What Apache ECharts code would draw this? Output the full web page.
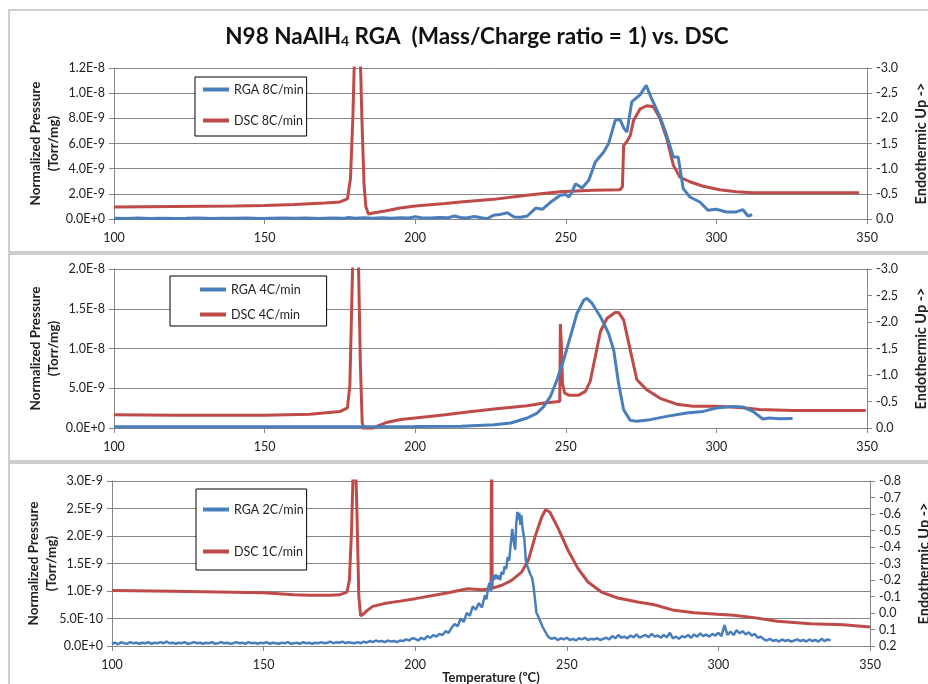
<!DOCTYPE html>
<html>
<head>
<meta charset="utf-8">
<script src="https://cdn.jsdelivr.net/npm/echarts@6/dist/echarts.min.js"></script>
<style>
  html, body { margin: 0; padding: 0; background: #fff; }
  #chart { width: 928px; height: 684px; }
</style>
</head>
<body>
<div id="chart"></div>
<script>
// temperature (C) vs normalized pressure in units of 1E-9 Torr/mg, and DSC signal (right axis)
const rga8 = [[100,0.05],[104,0.03],[108,0.07],[112,0.04],[116,0.06],[120,0.03],[124,0.05],[128,0.08],[132,0.04],[136,0.06],[140,0.05],[144,0.07],[148,0.04],[152,0.06],[156,0.08],[160,0.05],[164,0.07],[168,0.04],[172,0.08],[176,0.05],[178,0.12],[180,0.06],[183,0.1],[186,0.05],[189,0.09],[192,0.06],[195,0.1],[198,0.08],[200,0.18],[202,0.1],[205,0.08],[208,0.12],[211,0.1],[213,0.24],[215,0.12],[217,0.08],[219.6,0.2],[222,0.1],[224,0.03],[226,0.3],[228,0.35],[230.6,0.5],[232.8,0.16],[235,0.14],[237.2,0.24],[240,0.87],[242.2,0.77],[245,1.35],[248.2,1.88],[250,1.95],[251,1.75],[252,2.1],[253.2,2.8],[255.4,2.46],[257.6,3.07],[259.8,4.53],[262.6,5.32],[264.2,5.99],[266.4,7.84],[268,7.92],[269.3,7.2],[270.3,6.91],[271.9,9.3],[274.7,9.88],[276.7,10.62],[278.5,9.56],[281.3,8.1],[283.5,6.65],[285.7,4.93],[287.3,4.93],[289,2.41],[291.2,1.75],[294.5,1.35],[297.2,0.69],[300,0.77],[303.3,0.56],[306.6,0.56],[308.8,0.74],[310.5,0.24],[311.9,0.34]];
const dsc8 = [[100,-0.24],[120,-0.25],[140,-0.26],[150,-0.27],[160,-0.29],[170,-0.32],[175,-0.34],[177.5,-0.4],[178.5,-0.8],[179.3,-2.0],[180,-3.6],[180.8,-4.5],[181.6,-3.6],[182.3,-2.0],[183,-0.7],[183.6,-0.25],[184.5,-0.1],[186,-0.12],[190,-0.16],[195,-0.22],[200,-0.26],[210,-0.31],[215,-0.34],[226,-0.39],[237,-0.47],[248,-0.54],[259,-0.57],[268,-0.58],[268.8,-0.64],[269.2,-1.46],[270.3,-1.54],[271.4,-1.66],[272.5,-1.96],[274.7,-2.19],[276.9,-2.25],[279.1,-2.23],[281.3,-1.99],[283.5,-1.6],[285.7,-1.07],[287.9,-0.83],[291.2,-0.74],[295.6,-0.65],[301.1,-0.58],[306.6,-0.54],[312,-0.52],[320,-0.52],[331,-0.52],[347.4,-0.52]];

const rga4 = [[100,0.15],[120,0.16],[140,0.15],[160,0.17],[180,0.16],[200,0.18],[215.2,0.21],[226.2,0.42],[231.7,0.63],[237.2,1.26],[240.5,1.88],[242.7,2.72],[244.9,3.97],[247.1,6.07],[249.3,8.58],[251.5,11.5],[253.7,14.4],[256,16.1],[257,16.3],[258.7,15.7],[261.5,14.0],[264.2,11.9],[265.9,9.8],[267.5,5.65],[269.2,2.3],[271.4,0.96],[273.6,0.84],[278,1.05],[283.5,1.46],[290.1,1.88],[295.6,2.09],[300,2.51],[305.5,2.72],[308.8,2.64],[312.1,2.09],[315.4,1.13],[317.6,1.26],[320.9,1.17],[325.3,1.21]];
const dsc4 = [[100,-0.25],[120,-0.24],[150,-0.24],[165,-0.26],[175,-0.31],[177.5,-0.38],[178.3,-0.8],[179,-2.5],[179.7,-4.2],[180.5,-4.5],[181.2,-3.0],[181.8,-1.2],[182.4,-0.1],[183,0.03],[185.2,0.03],[188,-0.05],[190.8,-0.11],[195.2,-0.16],[200,-0.19],[210,-0.25],[217.4,-0.3],[226.2,-0.36],[237.2,-0.42],[242.7,-0.47],[248,-0.5],[248.2,-1.96],[248.6,-1.47],[248.9,-0.85],[249.6,-0.66],[251,-0.62],[254.3,-0.62],[256.5,-0.69],[258.1,-0.88],[259.8,-1.35],[261.5,-1.82],[263.7,-2.07],[266.4,-2.18],[267.5,-2.18],[269.2,-2.04],[271.4,-1.47],[273.6,-0.91],[276.9,-0.72],[281.3,-0.56],[286.8,-0.45],[292.3,-0.41],[300,-0.41],[308.8,-0.38],[314.3,-0.35],[325.3,-0.33],[349.6,-0.33]];

const rga2 = [[100,0.04],[101,0.06],[102,0.03],[103,0.07],[104,0.05],[105,0.04],[106,0.07],[107,0.05],[108,0.06],[109,0.04],[110,0.06],[111,0.05],[112,0.07],[113,0.04],[114,0.06],[115,0.05],[116,0.07],[117,0.05],[118,0.08],[119,0.05],[120,0.06],[121,0.04],[122,0.06],[123,0.05],[124,0.07],[125,0.04],[126,0.05],[127,0.07],[128,0.05],[129,0.06],[130,0.04],[131,0.06],[132,0.05],[133,0.07],[134,0.04],[135,0.05],[136,0.07],[137,0.05],[138,0.06],[139,0.04],[140,0.05],[141,0.07],[142,0.05],[143,0.06],[144,0.04],[145,0.07],[146,0.05],[147,0.06],[148,0.04],[149,0.06],[150,0.05],[151,0.07],[152,0.04],[153,0.06],[154,0.05],[155,0.04],[156,0.06],[157,0.05],[158,0.07],[159,0.04],[160,0.05],[161,0.06],[162,0.04],[163,0.07],[164,0.05],[165,0.06],[166,0.04],[167,0.06],[168,0.05],[169,0.07],[170,0.05],[171,0.06],[172,0.08],[173,0.05],[174,0.07],[175,0.06],[176,0.08],[177,0.05],[178,0.07],[179,0.06],[180,0.05],[181,0.07],[182,0.05],[183,0.08],[184,0.06],[185,0.09],[186,0.07],[187,0.1],[188,0.08],[189,0.09],[190,0.07],[191,0.1],[192,0.08],[193,0.09],[194,0.07],[195,0.1],[196,0.09],[197,0.12],[198,0.1],[199,0.14],[200,0.13],[201,0.1],[202,0.15],[203,0.12],[204,0.18],[205,0.15],[206,0.2],[207,0.17],[208,0.22],[209,0.2],[210,0.27],[211,0.24],[212,0.33],[213,0.4],[214,0.36],[215,0.5],[216,0.44],[217,0.6],[218,0.55],[219,0.72],[220,0.66],[221,0.78],[222,0.7],[223,0.92],[223.5,0.85],[224,1.05],[224.5,1.15],[225,1.0],[225.5,1.28],[226,1.2],[226.5,1.3],[227,1.22],[227.5,1.28],[228,1.2],[228.5,1.35],[229,1.3],[229.5,1.45],[230,1.4],[230.5,1.62],[231,1.55],[231.5,1.85],[232,2.13],[232.5,1.9],[233,1.75],[233.3,2.2],[233.7,2.44],[234,2.3],[234.3,2.42],[234.7,2.2],[235,2.38],[235.5,2.1],[236,1.95],[236.5,1.55],[237,1.45],[237.5,1.48],[238,1.3],[238.5,1.25],[239,1.1],[239.5,0.85],[240,0.6],[240.5,0.55],[241,0.48],[241.5,0.45],[242,0.35],[242.5,0.3],[243,0.25],[243.5,0.2],[244,0.16],[244.5,0.17],[245,0.13],[246,0.15],[247,0.11],[248,0.14],[249,0.12],[250,0.15],[251,0.11],[252,0.13],[253,0.1],[254,0.14],[255,0.12],[256,0.15],[257,0.11],[258,0.13],[259,0.12],[260,0.14],[261,0.11],[262,0.13],[263,0.15],[264,0.12],[265,0.18],[266,0.14],[267,0.2],[268,0.15],[269,0.17],[270,0.14],[271,0.19],[272,0.16],[273,0.21],[274,0.15],[275,0.18],[276,0.2],[277,0.16],[278,0.22],[279,0.17],[280,0.19],[281,0.15],[282,0.2],[283,0.16],[284,0.24],[285,0.14],[286,0.17],[287,0.13],[288,0.18],[289,0.16],[290,0.2],[291,0.15],[292,0.21],[293,0.17],[294,0.23],[295,0.18],[296,0.21],[297,0.17],[298,0.22],[299,0.19],[300,0.24],[301,0.18],[302,0.38],[303,0.2],[304,0.26],[305,0.2],[306,0.29],[307,0.23],[308,0.27],[309,0.21],[310,0.25],[311,0.19],[312,0.22],[313,0.15],[314,0.17],[315,0.12],[316,0.1],[317,0.13],[318,0.09],[319,0.11],[320,0.08],[321,0.12],[322,0.09],[323,0.11],[324,0.08],[325,0.1],[326,0.12],[327,0.09],[328,0.11],[329,0.08],[330,0.12],[331,0.09],[332,0.11],[333,0.08],[334,0.13],[335,0.09],[336,0.12],[337,0.1]];
const dsc1 = [[100,-0.137],[120,-0.132],[140,-0.126],[150,-0.123],[160,-0.11],[165,-0.107],[172,-0.107],[175,-0.11],[177.5,-0.127],[178.3,-0.2],[179,-0.5],[179.6,-0.9],[180.2,-1.0],[180.8,-0.6],[181.4,-0.1],[182,0.018],[183,0.005],[184.2,-0.016],[186,-0.04],[189.7,-0.057],[195,-0.072],[200,-0.087],[210,-0.12],[217.3,-0.147],[222,-0.141],[225,-0.147],[225.2,-1.2],[225.4,-0.15],[228.6,-0.168],[231.8,-0.198],[235.1,-0.248],[237.3,-0.319],[239.5,-0.46],[241.7,-0.58],[243,-0.626],[244.4,-0.612],[247.2,-0.511],[250.4,-0.38],[253.7,-0.269],[257,-0.188],[261.4,-0.127],[266.8,-0.091],[273.4,-0.067],[278.9,-0.05],[285.4,-0.016],[292,-0.002],[299.7,0.008],[305.1,0.014],[311.7,0.028],[319.4,0.05],[330.3,0.065],[341.2,0.071],[350,0.085]];

const panelNames = [['RGA 8C/min', 'DSC 8C/min'], ['RGA 4C/min', 'DSC 4C/min'], ['RGA 2C/min', 'DSC 1C/min']];
const leftMax = [12, 20, 3];       // x 1E-9
const leftStep = [2, 5, 0.5];
const rightRange = [[-3, 0, 0.5], [-3, 0, 0.5], [-0.8, 0.2, 0.1]];

const FONT = 'Lato, "Liberation Sans", sans-serif';
const BLUE = '#4a7ebb';
const RED = '#be4b48';
const AXIS = '#868686';

const grids = [
  { left: 114, right: 61, top: 68, height: 151, outerBoundsMode: 'none' },
  { left: 114, right: 61, top: 269, height: 159, outerBoundsMode: 'none' },
  { left: 112, right: 58, top: 481, height: 165, outerBoundsMode: 'none' }
];

const xAxes = grids.map((g, i) => ({
  type: 'value', gridIndex: i, min: 100, max: 350, interval: 50,
  axisLine: { lineStyle: { color: AXIS } },
  axisTick: { show: true, length: 5, lineStyle: { color: AXIS } },
  splitLine: { show: false },
  axisLabel: { fontFamily: FONT, fontSize: 12.5, color: '#222', margin: 12 },
  name: i === 2 ? 'Temperature (ºC)' : '',
  nameLocation: 'middle', nameGap: 25, nameMoveOverlap: false,
  nameTextStyle: { fontFamily: FONT, fontSize: 13, fontWeight: 'bold', color: '#222' }
}));

const yAxes = [];
grids.forEach((g, i) => {
  yAxes.push({
    type: 'value', gridIndex: i, position: 'left', min: 0, max: leftMax[i], interval: leftStep[i],
    axisLine: { show: true, lineStyle: { color: AXIS } },
    axisTick: { show: true, length: 5, lineStyle: { color: AXIS } },
    splitLine: { show: true, lineStyle: { color: AXIS, width: 1 } },
    axisLabel: {
      fontFamily: FONT, fontSize: 12.5, color: '#222', margin: 9,
      formatter: v => (v * 1e-9).toExponential(1).toUpperCase()
    },
    name: 'Normalized Pressure\n(Torr/mg)', nameLocation: 'middle', nameGap: 51, nameMoveOverlap: false,
    nameTextStyle: { fontFamily: FONT, fontSize: 13.5, fontWeight: 'bold', color: '#222', lineHeight: 18 }
  });
  const r = rightRange[i];
  yAxes.push({
    type: 'value', gridIndex: i, position: 'right', inverse: true, min: r[0], max: r[1], interval: r[2],
    axisLine: { show: true, lineStyle: { color: AXIS } },
    axisTick: { show: true, length: 5, lineStyle: { color: AXIS } },
    splitLine: { show: false },
    axisLabel: {
      fontFamily: FONT, fontSize: 12.5, color: '#222', margin: 9,
      formatter: v => (Math.round(v * 10) / 10 + 0).toFixed(1)
    },
    name: 'Endothermic Up ->', nameLocation: 'middle', nameGap: 47, nameRotate: 90, nameMoveOverlap: false,
    nameTextStyle: { fontFamily: FONT, fontSize: 14.5, fontWeight: 'bold', color: '#222' }
  });
});

const seriesData = [[rga8, dsc8], [rga4, dsc4], [rga2, dsc1]];
const series = [];
seriesData.forEach((pair, i) => {
  series.push({
    name: panelNames[i][0], type: 'line', xAxisIndex: i, yAxisIndex: i * 2,
    data: pair[0], showSymbol: false, symbol: 'none',
    lineStyle: { color: BLUE, width: i === 2 ? 2.5 : 3 }, itemStyle: { color: BLUE }, z: 3
  });
  series.push({
    name: panelNames[i][1], type: 'line', xAxisIndex: i, yAxisIndex: i * 2 + 1,
    data: pair[1], showSymbol: false, symbol: 'none',
    lineStyle: { color: RED, width: 3 }, itemStyle: { color: RED }, z: 2
  });
});

const legendPos = [
  { left: 195, top: 77, itemGap: 18, padding: [6, 3, 9, 8] },
  { left: 170, top: 276, itemGap: 12, padding: [7, 26, 5, 30] },
  { left: 196, top: 489, itemGap: 29, padding: [14, 3, 12, 7] }
];
const legends = legendPos.map((p, i) => Object.assign({
  orient: 'vertical', data: panelNames[i], icon: 'rect', itemWidth: 26, itemHeight: 4,
  borderColor: '#000', borderWidth: 1, backgroundColor: '#fff',
  textStyle: { fontFamily: FONT, fontSize: 12.5, color: '#222' }, itemTextGap: 1
}, p));

const chart = echarts.init(document.getElementById('chart'));
chart.setOption({
  animation: false,
  backgroundColor: '#fff',
  title: {
    text: '{b|N98 NaAlH}{s|4}{b| RGA  (Mass/Charge ratio = 1) vs. DSC}',
    left: 472, top: 13, textAlign: 'center',
    textStyle: {
      rich: {
        b: { fontFamily: FONT, fontSize: 22.5, fontWeight: 'bold', color: '#111', lineHeight: 30, verticalAlign: 'bottom' },
        s: { fontFamily: FONT, fontSize: 14, fontWeight: 'bold', color: '#111', lineHeight: 23, verticalAlign: 'bottom' }
      }
    }
  },
  legend: legends,
  grid: grids,
  xAxis: xAxes,
  yAxis: yAxes,
  series: series,
  graphic: [
    { type: 'rect', shape: { x: 9, y: 10, width: 940, height: 242 }, style: { fill: null, stroke: '#bfbfbf', lineWidth: 1.5 }, silent: true },
    { type: 'rect', shape: { x: 9, y: 254, width: 940, height: 207 }, style: { fill: null, stroke: '#bfbfbf', lineWidth: 1.5 }, silent: true },
    { type: 'rect', shape: { x: 9, y: 463, width: 940, height: 240 }, style: { fill: null, stroke: '#bfbfbf', lineWidth: 1.5 }, silent: true }
  ]
});
</script>
</body>
</html>
